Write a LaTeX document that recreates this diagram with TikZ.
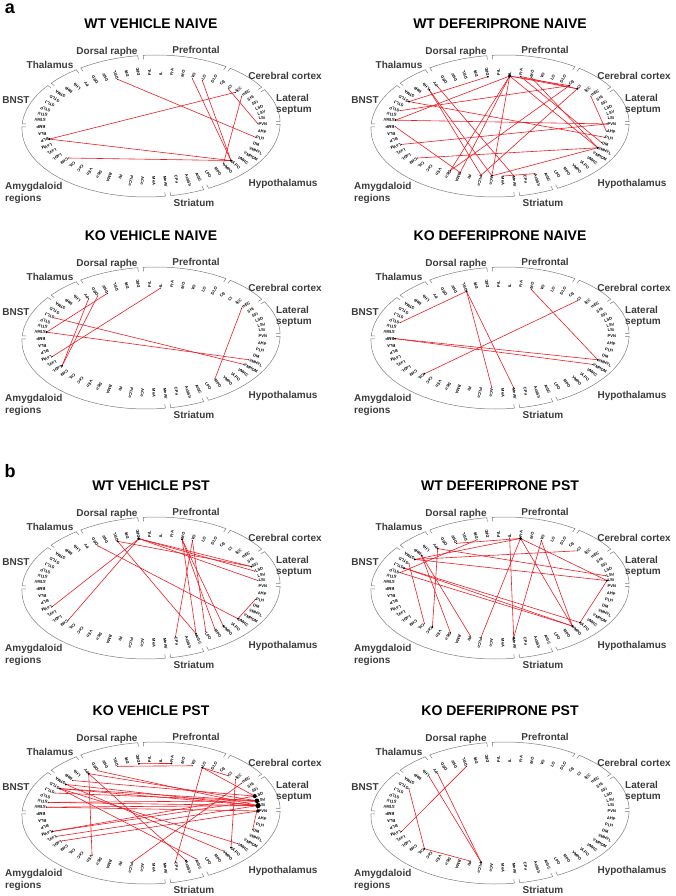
\documentclass[tikz,border=0pt]{standalone}
\usepackage{fontspec}
\setmainfont{Liberation Sans}
\definecolor{linkred}{RGB}{236,28,36}
\definecolor{ringgray}{RGB}{125,125,125}
\definecolor{grouptext}{RGB}{60,60,60}
\tikzset{%
  region/.style      = {font=\fontsize{4}{4.5}\selectfont\bfseries, inner sep=0.5pt, anchor=west},%
  group/.style       = {font=\fontsize{10}{11.5}\selectfont\bfseries, text=grouptext,%
                        align=left, inner sep=0pt},%
  paneltitle/.style  = {font=\fontsize{14}{16}\selectfont\bfseries, inner sep=0pt},%
  panelletter/.style = {font=\fontsize{18}{20}\selectfont\bfseries, inner sep=0pt},%
  link/.style        = {draw=linkred, line width=0.6pt},%
  bracket/.style     = {draw=ringgray, line width=0.5pt},%
  declare function   = {lx(\x)=152+106*cos(\x)+5*max(sin(\x),0);%
                        ly(\x)=123-((sin(\x)>0) ? 47*sin(\x) : -53*pow(abs(sin(\x)),0.85));%
                        ox(\x,\y)=151+\y*cos(\x)+5*sin(\x); oy(\x,\y)=126-\y*sin(\x);}%
}
% one ring of regions, coordinates named <prefix>-<region>
\newcommand{\brainring}[1]{%
  \foreach \lab [count=\i from 0] in {PVN,LSI,LSV,LSD,SFi,SHi,mEC,lEC,Cl,Cg,DLO,LO,VO,MO,FrA,IL,PrL,%
      DRC,DRI,DRL,DRV,DRD,PV,LHb,MHb,STMA,STLD,STLJ,STLP,STLV,STMV,BMP,BLA,BLP,LaVM,LaVL,LaDL,%
      CeM,CeL,CeC,VEn,DEn,BMA,Pir,PLCo,ACo,MeA,MeAV,CPu,AcbSh,AcbC,LPO,MPO,VMPO,VLPO,VMHC,%
      VMHDM,VMHVL,DM,PLH,AHP} {%
    \pgfmathsetmacro{\ang}{\i*5.9016-0.5}%
    \coordinate (#1-\lab) at ({lx(\ang)},{ly(\ang)});%
    \node[region, rotate=\ang] (#1-\lab-txt) at (#1-\lab) {\lab};%
  }%
  \foreach \ta/\tb in {2.45/31.96,31.96/55.57,55.57/96.88,96.88/126.39,126.39/144.09,%
      144.09/179.5,179.5/279.82,279.82/297.53,297.53/362.45} {%
    \pgfmathsetmacro{\tp}{\ta+1.2}%
    \pgfmathsetmacro{\tq}{\tb-1.2}%
    \draw[bracket] ({ox(\tp,125)},{oy(\tp,67)})
      -- plot[domain=\tp:\tq, samples=24] ({ox(\x,129)},{oy(\x,71)})
      -- ({ox(\tq,125)},{oy(\tq,67)});%
  }%
  \node[group] (#1-thal) at (50,65) {Thalamus};%
  \node[group] (#1-raphe) at (107,52) {Dorsal raphe};%
  \node[group] (#1-pfc) at (196,50) {Prefrontal};%
  \node[group] (#1-ctx) at (285,76) {Cerebral cortex};%
  \node[group, anchor=west] (#1-sept) at (276,104.5) {Lateral\\septum};%
  \node[group] (#1-bnst) at (16,100) {BNST};%
  \node[group, anchor=west] (#1-amy) at (5,193) {Amygdaloid\\regions};%
  \node[group] (#1-str) at (194,203) {Striatum};%
  \node[group] (#1-hyp) at (283,184) {Hypothalamus};%
}
\newcommand{\brainlinks}[2]{%
  \foreach \src/\dst in {#2} {%
    \draw[link] (#1-\src) -- (#1-\dst);%
    \fill (#1-\src) circle[radius=0.5pt] (#1-\dst) circle[radius=0.5pt];%
  }}
\newcommand{\brainhubs}[2]{%
  \foreach \hub/\rad in {#2} {\fill (#1-\hub) circle[radius=\rad];}}

\begin{document}
\begin{tikzpicture}[x=1pt,y=-1pt]
  \useasboundingbox (0,0) rectangle (675,896);
  \node[panelletter] (lettera) at (10,9) {a};
  \node[panelletter] (letterb) at (10,471) {b};
  % WT vehicle naive
  \begin{scope}
    \node[paneltitle] (title1) at (151,24) {WT VEHICLE NAIVE};
    \brainring{p1}
    \brainlinks{p1}{DRL/PLH,BLP/lEC,Cl/PVN,mEC/VMPO,VO/VLPO,LO/VLPO,BLP/VLPO,CeM/VLPO}
    \brainhubs{p1}{BLP/1.1pt,VLPO/1.3pt}
  \end{scope}
  % WT deferiprone naive
  \begin{scope}[shift={(349,0)}]
    \node[paneltitle] (title2) at (151,24) {WT DEFERIPRONE NAIVE};
    \brainring{p2}
    \brainlinks{p2}{DRC/STLD,IL/STMV,Cg/STLP,IL/Cg,IL/Cl,FrA/Cl,IL/DEn,IL/BMA,IL/ACo,
      IL/VMHVL,FrA/DM,MO/VMHVL,Cg/DEn,Cl/PLCo,mEC/AHP,LHb/ACo,LHb/PLCo,PV/MeAV,
      STLD/PLH,STMV/PVN,BMP/BMA,LaVM/PVN,VMHVL/ACo,MeA/AcbSh,CeM/VMHVL}
    \brainhubs{p2}{IL/1.8pt,DRC/1pt,Cg/1pt,Cl/1pt,LHb/1pt,STLD/1pt,STMV/1pt,VMHVL/1.2pt,ACo/1pt}
  \end{scope}
  % KO vehicle naive
  \begin{scope}[shift={(0,212)}]
    \node[paneltitle] (title3) at (151,24) {KO VEHICLE NAIVE};
    \brainring{p3}
    \brainlinks{p3}{IL/LaVM,STMV/DRV,PV/LaDL,DRD/LaDL,STLJ/VMHDM,STMV/VMHVL,mEC/MPO}
    \brainhubs{p3}{STMV/1pt,LaDL/1pt}
  \end{scope}
  % KO deferiprone naive
  \begin{scope}[shift={(349,212)}]
    \node[paneltitle] (title4) at (151,24) {KO DEFERIPRONE NAIVE};
    \brainring{p4}
    \brainlinks{p4}{STLP/DRL,DRL/ACo,DRL/MeAV,Cl/CeL,BMP/VMHVL,BMP/VMHDM,MO/VMHVL}
    \brainhubs{p4}{DRL/1.1pt,BMP/1pt,CeL/1pt,VMHVL/1pt}
  \end{scope}
  % WT vehicle PST
  \begin{scope}[shift={(0,462)}]
    \node[paneltitle] (title5) at (151,24) {WT VEHICLE PST};
    \brainring{p5}
    \brainlinks{p5}{DRC/LaVM,DRC/CeM,DRC/SFi,DRC/LSD,DRC/LSI,DRL/SFi,DRL/AcbC,DRD/VMHC,
      MO/VMPO,MO/MPO,MO/AcbC,VO/LPO,CPu/VO,PLH/VMHC}
    \brainhubs{p5}{DRC/1.6pt,DRL/1pt,MO/1.1pt,VMPO/1pt,VMHC/1pt,AcbC/1pt,SFi/1pt}
  \end{scope}
  % WT deferiprone PST
  \begin{scope}[shift={(349,462)}]
    \node[paneltitle] (title6) at (151,24) {WT DEFERIPRONE PST};
    \brainring{p6}
    \brainlinks{p6}{FrA/DRV,FrA/STMA,FrA/LSI,FrA/PLCo,FrA/VMPO,VO/MeAV,IL/MeAV,VO/VMPO,
      STMA/Cl,STMA/LSI,STLJ/VMPO,STLJ/VLPO,STLP/VMPO,MHb/Pir,MHb/DEn,PV/CeC,STLD/CeL,
      DRI/STLP,VLPO/LSI,PV/LSV}
    \brainhubs{p6}{FrA/1.6pt,STMA/1.1pt,STLJ/1pt,MHb/1pt,PV/1pt,VMPO/1.1pt,VLPO/1pt,
      LSI/1.1pt,MeAV/1pt,CeC/1pt}
  \end{scope}
  % KO vehicle PST
  \begin{scope}[shift={(0,687)}]
    \node[paneltitle] (title7) at (151,24) {KO VEHICLE PST};
    \brainring{p7}
    \brainlinks{p7}{DRC/FrA,DRL/VO,LO/Cl,LO/CPu,LO/LSD,PV/VEn,PV/AcbSh,PV/LSV,DRD/LSI,
      STMA/LSI,STMA/VMPO,STLD/LSV,STLD/LSI,STLD/AcbC,STLD/VMHC,STLV/LSV,STLV/LSI,
      STMV/LSI,STMV/PVN,LaVM/LSV,LaVM/LSD,LaVL/LSI,LaDL/PVN,PLCo/mEC,VLPO/lEC,DM/LSI,
      MHb/LSD,STLJ/LSV}
    \brainhubs{p7}{LSI/2.6pt,LSV/2.3pt,LSD/2pt,PVN/1.8pt,DRC/1pt,FrA/1pt,LO/1.1pt,PV/1.1pt,
      STMA/1pt,STLD/1pt,LaVM/1pt,VLPO/1pt,AcbSh/1pt}
  \end{scope}
  % KO deferiprone PST
  \begin{scope}[shift={(349,687)}]
    \node[paneltitle] (title8) at (151,24) {KO DEFERIPRONE PST};
    \brainring{p8}
    \brainlinks{p8}{DRL/LaVM,LHb/PLCo,PV/PLCo,STLD/CeL,CeL/Pir}
    \brainhubs{p8}{CeL/1pt,PLCo/1pt}
  \end{scope}
\end{tikzpicture}
\end{document}
